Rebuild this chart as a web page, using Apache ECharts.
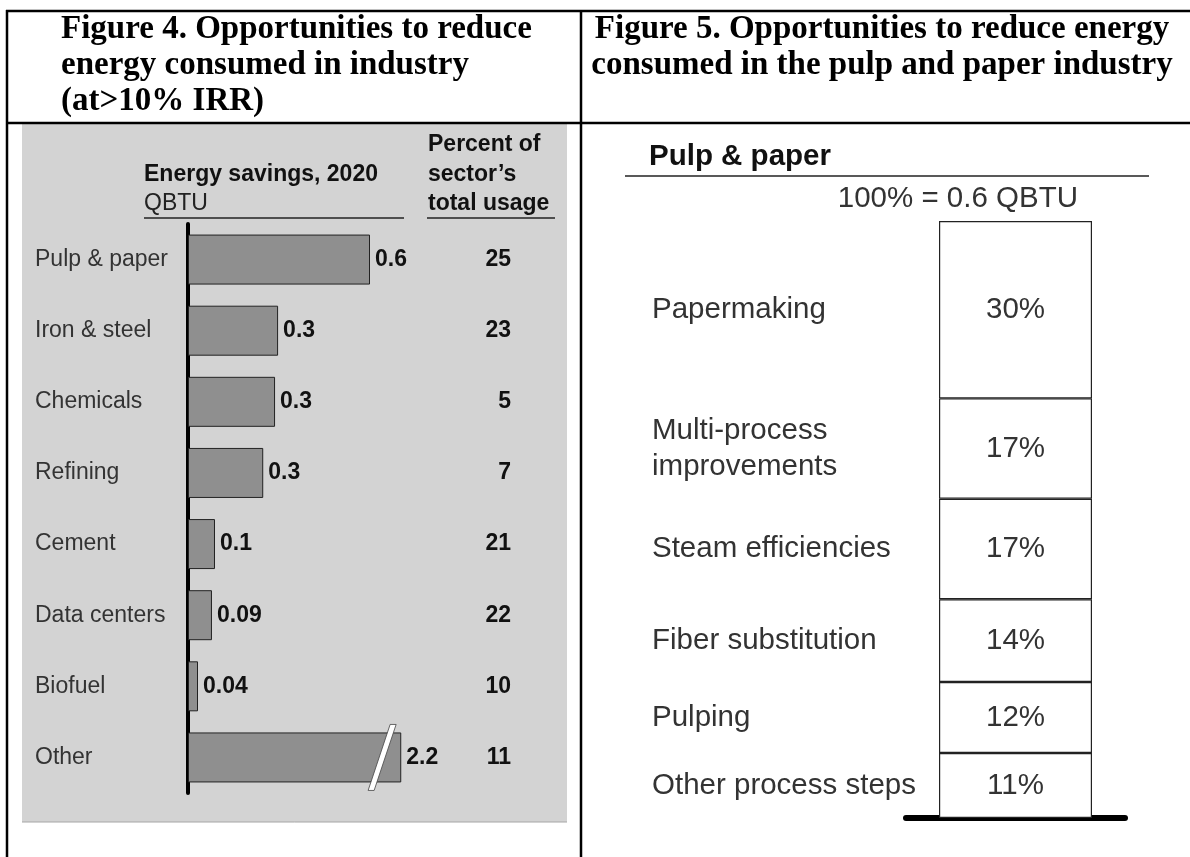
<!DOCTYPE html>
<html>
<head>
<meta charset="utf-8">
<script src="https://cdn.jsdelivr.net/npm/echarts@6/dist/echarts.min.js"></script>
<style>
  html, body { margin: 0; padding: 0; background: #fff; }
  #chart { width: 1190px; height: 857px; }
</style>
</head>
<body>
<div id="chart"></div>
<script>
// Figure 4: savings by sector (top to bottom)
const sectors = ['Pulp & paper', 'Iron & steel', 'Chemicals', 'Refining', 'Cement', 'Data centers', 'Biofuel', 'Other'];
const savingsLabel = ['0.6', '0.3', '0.3', '0.3', '0.1', '0.09', '0.04', '2.2'];
// bar lengths as drawn, QBTU (Other is cut by a break mark)
const savingsDrawn = [0.6, 0.297, 0.287, 0.248, 0.089, 0.079, 0.033, 0.703];
const sectorShare = ['25', '23', '5', '7', '21', '22', '10', '11'];

// Figure 5: pulp & paper breakdown, bottom to top
const steps = ['Other process steps', 'Pulping', 'Fiber substitution', 'Steam efficiencies', 'Multi-process\nimprovements', 'Papermaking'];
const stepShare = [11, 12, 14, 17, 17, 30];

const SANS = '"Liberation Sans", Arial, sans-serif';
const SERIF = '"Liberation Serif", "Times New Roman", serif';

const chart = echarts.init(document.getElementById('chart'));

const ppSeries = [];
steps.forEach((name, i) => {
  ppSeries.push({
    type: 'bar',
    name: name,
    stack: 'share',
    xAxisIndex: 2,
    yAxisIndex: 2,
    barWidth: 153,
    barGap: '-100%',
    data: [stepShare[i]],
    itemStyle: { color: '#fff', borderColor: '#222', borderWidth: 1.2 },
    label: {
      show: true, position: 'inside', formatter: '{c}%',
      fontFamily: SANS, fontSize: 29.5, color: '#333'
    }
  });
});
// same stack again, invisible, only to carry the step names on the left
steps.forEach((name, i) => {
  ppSeries.push({
    type: 'bar',
    stack: 'names',
    xAxisIndex: 2,
    yAxisIndex: 2,
    barWidth: 153,
    barGap: '-100%',
    silent: true,
    data: [stepShare[i]],
    itemStyle: { color: 'rgba(0,0,0,0)' },
    label: {
      show: true, position: [-287, '50%'], align: 'left', verticalAlign: 'middle',
      formatter: () => name,
      fontFamily: SANS, fontSize: 29.5, lineHeight: 36, color: '#333'
    }
  });
});

function txt(x, y, text, font, align, color) {
  return {
    type: 'text', x: x, y: y, z: 100,
    style: { text: text, font: font, align: align || 'left', verticalAlign: 'middle', fill: color || '#000' }
  };
}
function line(x1, y1, x2, y2, w, color) {
  return {
    type: 'line', z: 100,
    shape: { x1: x1, y1: y1, x2: x2, y2: y2 },
    style: { stroke: color || '#000', lineWidth: w }
  };
}

const graphics = [
  // grey panel behind figure 4
  { type: 'rect', z: -10, shape: { x: 22, y: 124, width: 545, height: 698 }, style: { fill: '#d3d3d3' } },
  line(22, 822, 567, 822, 1, '#a6a6a6'),
  // table rules
  line(6, 11, 1190, 11, 2.5),
  line(7, 10, 7, 857, 2.5),
  line(581, 10, 581, 857, 2.5),
  line(6, 123, 1190, 123, 2.5),
  // titles
  txt(61, 29, 'Figure 4. Opportunities to reduce', 'bold 33px ' + SERIF),
  txt(61, 65, 'energy consumed in industry', 'bold 33px ' + SERIF),
  txt(61, 101, '(at>10% IRR)', 'bold 33px ' + SERIF),
  txt(882, 29, 'Figure 5. Opportunities to reduce energy', 'bold 33px ' + SERIF, 'center'),
  txt(882, 65, 'consumed in the pulp and paper industry', 'bold 33px ' + SERIF, 'center'),
  // figure 4 headers
  txt(144, 175, 'Energy savings, 2020', 'bold 23px ' + SANS, 'left', '#111'),
  txt(144, 204, 'QBTU', '23px ' + SANS, 'left', '#222'),
  line(144, 218, 404, 218, 1.5, '#222'),
  txt(428, 145, 'Percent of', 'bold 23px ' + SANS, 'left', '#111'),
  txt(428, 175, 'sector\u2019s', 'bold 23px ' + SANS, 'left', '#111'),
  txt(428, 204, 'total usage', 'bold 23px ' + SANS, 'left', '#111'),
  line(427, 218, 555, 218, 1.5, '#222'),
  // figure 5 headers
  txt(649, 157, 'Pulp & paper', 'bold 29.5px ' + SANS, 'left', '#111'),
  line(625, 176, 1149, 176, 1.5, '#222'),
  txt(1078, 199, '100% = 0.6 QBTU', '29.5px ' + SANS, 'right', '#333')
];

chart.setOption({
  backgroundColor: '#fff',
  animation: false,
  grid: [
    { left: 188, top: 224, width: 364, height: 569 },
    { left: 519, top: 224, width: 1, height: 569 },
    { left: 906, top: 221, width: 219, bottom: 39 }
  ],
  xAxis: [
    { gridIndex: 0, type: 'value', min: 0, max: 1.2, show: false },
    { gridIndex: 1, type: 'value', show: false },
    {
      gridIndex: 2, type: 'category', data: ['Pulp & paper'],
      axisLine: { lineStyle: { color: '#000', width: 6, cap: 'round' } },
      axisTick: { show: false }, axisLabel: { show: false }
    }
  ],
  yAxis: [
    {
      gridIndex: 0, type: 'category', inverse: true, data: sectors,
      axisLine: { lineStyle: { color: '#000', width: 4, cap: 'round' } },
      axisTick: { show: false },
      axisLabel: { align: 'left', margin: 153, fontFamily: SANS, fontSize: 23, color: '#333' }
    },
    {
      gridIndex: 1, type: 'category', inverse: true, data: sectorShare,
      axisLine: { show: false }, axisTick: { show: false },
      axisLabel: { margin: 8, fontFamily: SANS, fontSize: 23, fontWeight: 'bold', color: '#111' }
    },
    { gridIndex: 2, type: 'value', min: 0, max: 101, show: false }
  ],
  series: [
    {
      type: 'bar',
      xAxisIndex: 0,
      yAxisIndex: 0,
      barWidth: 50,
      data: savingsDrawn,
      itemStyle: { color: '#8f8f8f', borderColor: '#222', borderWidth: 1 },
      label: {
        show: true, position: 'right', distance: 5,
        formatter: (p) => savingsLabel[p.dataIndex],
        fontFamily: SANS, fontSize: 23, fontWeight: 'bold', color: '#111'
      }
    }
  ].concat(ppSeries),
  graphic: graphics
});

// break mark on the "Other" bar
const c = chart.convertToPixel({ gridIndex: 0 }, [0.64, 'Other']);
chart.setOption({
  graphic: graphics.concat([{
    type: 'polygon', z: 100,
    shape: { points: [[c[0] - 14, c[1] + 33], [c[0] - 8, c[1] + 33], [c[0] + 14, c[1] - 33], [c[0] + 8, c[1] - 33]] },
    style: { fill: '#fff', stroke: '#444', lineWidth: 0.8 }
  }])
});
</script>
</body>
</html>
